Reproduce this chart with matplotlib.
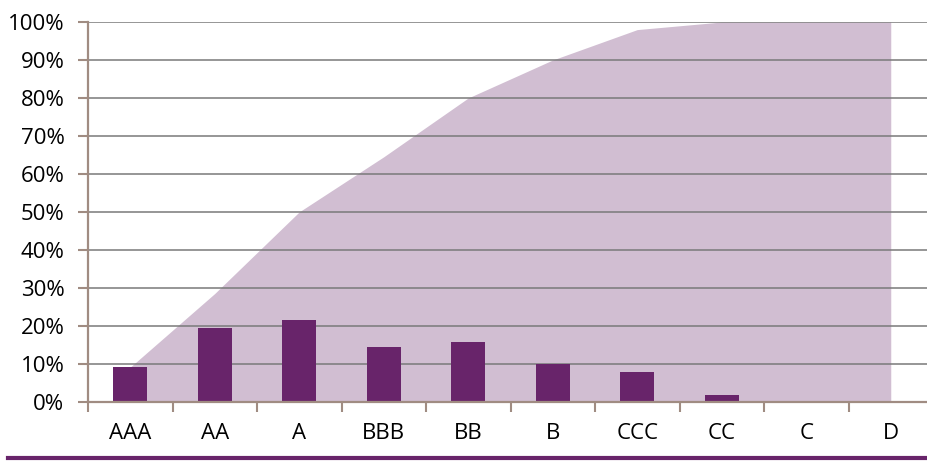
import matplotlib.pyplot as plt
from matplotlib.lines import Line2D
from matplotlib.ticker import FixedLocator, PercentFormatter

plt.rcParams['font.family'] = ['Open Sans', 'DejaVu Sans']

# rating buckets, share per bucket and cumulative share (in %)
ratings = ['AAA', 'AA', 'A', 'BBB', 'BB', 'B', 'CCC', 'CC', 'C', 'D']
share = [9.1, 19.4, 21.4, 14.3, 15.7, 9.9, 7.8, 1.8, 0, 0]
cumulative = [9.1, 28.5, 50, 64.5, 80, 90, 98, 100, 100, 100]

bar_col = '#68246a'
area_col = '#d1bed2'

fig = plt.figure(figsize=(9.27, 4.61), dpi=100)
ax = fig.add_axes([88 / 927, 59.3 / 461, 845 / 927, 379.7 / 461])

x = list(range(len(ratings)))
ax.fill_between(x, 0, cumulative, color=area_col, lw=0, zorder=1)
ax.bar(x, share, width=0.4, color=bar_col, zorder=3)

ax.set_xlim(-0.5, len(ratings) - 0.5)
ax.set_ylim(0, 100)
ax.set_yticks(range(0, 101, 10))
ax.yaxis.set_major_formatter(PercentFormatter(decimals=0))
for y in range(10, 101, 10):
    ax.axhline(y, color='#7a7a7a', lw=1.3, alpha=0.85, zorder=2)

# boundary ticks as major, labels on minor ticks at the centres
ax.xaxis.set_major_locator(FixedLocator([i - 0.5 for i in range(len(ratings) + 1)]))
ax.xaxis.set_major_formatter(plt.NullFormatter())
ax.xaxis.set_minor_locator(FixedLocator(x))
ax.set_xticklabels(ratings, minor=True)
ax.tick_params(axis='x', which='major', length=7, width=1.5, color='#a08c82')
ax.tick_params(axis='x', which='minor', length=0, pad=15, labelsize=16)
ax.tick_params(axis='y', length=7, width=1.5, color='#a08c82', pad=10, labelsize=16)

for s in ['top', 'right']:
    ax.spines[s].set_visible(False)
for s in ['left', 'bottom']:
    ax.spines[s].set_color('#a08c82')
    ax.spines[s].set_linewidth(1.6)
    ax.spines[s].set_zorder(4)

fig.add_artist(Line2D([8 / 927, 1], [3 / 461, 3 / 461], color=bar_col, lw=3, transform=fig.transFigure))

fig.savefig('out.png', dpi=100)
